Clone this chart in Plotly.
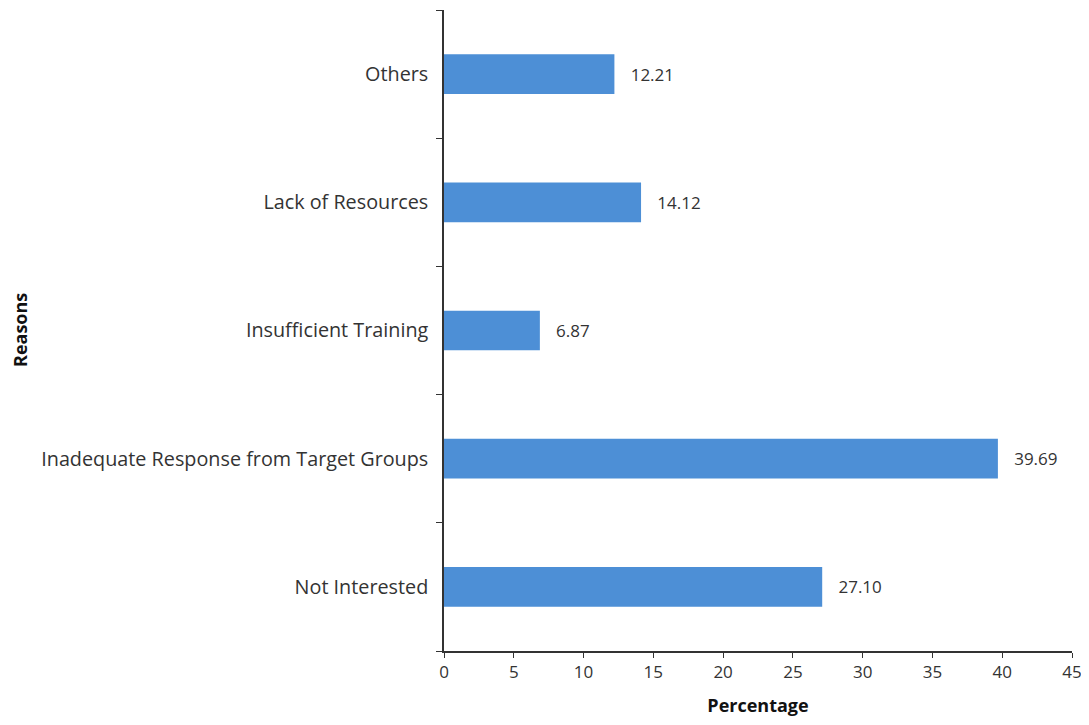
import plotly.graph_objects as go

# data
reasons = [
    "Not Interested",
    "Inadequate Response from Target Groups",
    "Insufficient Training",
    "Lack of Resources",
    "Others",
]
percentages = [27.10, 39.69, 6.87, 14.12, 12.21]
value_labels = ["27.10", "39.69", "6.87", "14.12", "12.21"]

BAR_COLOR = "#4d8fd6"
FONT = "Open Sans"

# the page body keeps an 8px margin, so the figure is sized to fit inside it
FIG_W, FIG_H = 1089 - 16, 725 - 16
LEFT, RIGHT, TOP, BOTTOM = 436, 9, 2, 66
PLOT_W = FIG_W - LEFT - RIGHT
PLOT_H = FIG_H - TOP - BOTTOM

fig = go.Figure()
fig.add_trace(
    go.Bar(
        x=percentages,
        y=reasons,
        orientation="h",
        width=0.31,
        marker=dict(color=BAR_COLOR, line=dict(width=0)),
        text=["\u00a0\u00a0\u00a0" + v for v in value_labels],
        textposition="outside",
        textfont=dict(size=17, color="#333333", family=FONT),
        cliponaxis=False,
        showlegend=False,
    )
)

fig.update_layout(
    width=FIG_W,
    height=FIG_H,
    margin=dict(l=LEFT, r=RIGHT, t=TOP, b=BOTTOM, autoexpand=False),
    plot_bgcolor="white",
    paper_bgcolor="white",
    font=dict(family=FONT, color="#333333", size=16),
    bargap=0.69,
)

fig.update_xaxes(
    range=[0, 45],
    dtick=5,
    automargin=False,
    ticklabeloverflow="allow",
    showgrid=False,
    zeroline=False,
    showline=True,
    linecolor="#333333",
    linewidth=1.5,
    ticks="outside",
    ticklen=5,
    tickcolor="#333333",
    tickfont=dict(size=17, color="#333333"),
    title=dict(text="<b>Percentage</b>", font=dict(size=18, color="#111111"), standoff=19),
)

fig.update_yaxes(
    categoryorder="array",
    categoryarray=reasons,
    range=[-0.5, 4.5],
    automargin=False,
    showgrid=False,
    zeroline=False,
    showline=True,
    linecolor="#333333",
    linewidth=1.5,
    ticks="outside",
    tickson="boundaries",
    ticklen=6,
    tickcolor="#333333",
    ticklabelstandoff=10,
    tickfont=dict(size=19.8, color="#333333"),
)

fig.add_annotation(
    text="<b>Reasons</b>",
    textangle=-90,
    xref="paper",
    yref="paper",
    x=(12 - LEFT) / PLOT_W,
    y=(FIG_H - BOTTOM - 322) / PLOT_H,
    xanchor="center",
    yanchor="middle",
    showarrow=False,
    font=dict(size=18, color="#111111", family=FONT),
)

fig.write_html("out.html")
